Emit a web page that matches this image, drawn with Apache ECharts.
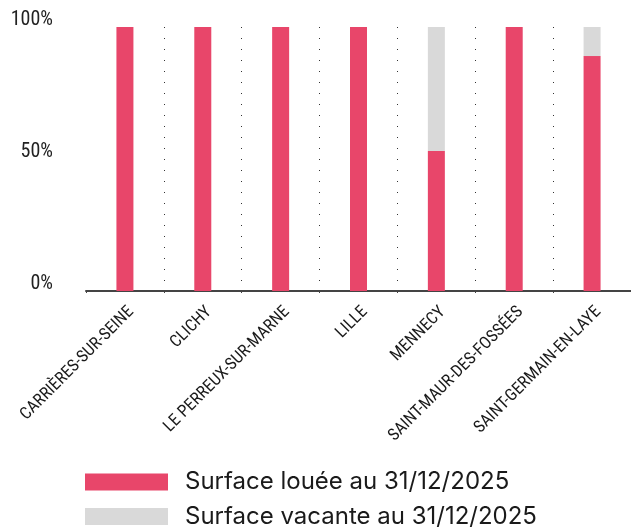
<!DOCTYPE html>
<html>
<head>
<meta charset="UTF-8">
<title></title>
<style>
  html, body { margin: 0; padding: 0; background: #fff; }
  #main { width: 631px; height: 530px; }
</style>
</head>
<body>
<div id="main"></div>
<script type="text/javascript" src="https://cdn.jsdelivr.net/npm/echarts@6/dist/echarts.min.js"></script>
<script type="text/javascript">
var villes = ['CARRIÈRES-SUR-SEINE', 'CLICHY', 'LE PERREUX-SUR-MARNE', 'LILLE', 'MENNECY', 'SAINT-MAUR-DES-FOSSÉES', 'SAINT-GERMAIN-EN-LAYE'];
var louee = [100, 100, 100, 100, 53, 100, 89];
var vacante = [0, 0, 0, 0, 47, 0, 11];
var yTicks = [0, 50, 100];

var condensed = '"Roboto Condensed", "DejaVu Sans Condensed", sans-serif';

var myChart = echarts.init(document.getElementById('main'));
var option = {
  animation: false,
  color: ['#e8466a', '#d9d9d9'],
  grid: {
    left: 86,
    right: 0,
    top: 27,
    bottom: 239
  },
  legend: {
    orient: 'vertical',
    left: 80,
    top: 465,
    height: 100,
    itemWidth: 83,
    itemHeight: 17,
    itemGap: 10.5,
    icon: 'rect',
    textStyle: {
      fontFamily: 'Inter, "Noto Sans", sans-serif',
      fontSize: 24,
      lineHeight: 20,
      color: '#1a1a1a',
      padding: [0, 0, 0, 12]
    },
    data: ['Surface louée au 31/12/2025', 'Surface vacante au 31/12/2025']
  },
  xAxis: {
    type: 'category',
    data: villes,
    axisLine: { lineStyle: { color: '#444', width: 2 } },
    axisTick: { show: true, length: 2, lineStyle: { color: '#444' } },
    splitLine: {
      show: true,
      showMinLine: false,
      showMaxLine: false,
      lineStyle: { color: '#333', type: [1, 10], width: 1 }
    },
    axisLabel: {
      rotate: 45,
      margin: 12,
      interval: 0,
      verticalAlign: 'top',
      lineHeight: 18,
      fontFamily: condensed,
      fontSize: 17,
      color: '#1a1a1a'
    }
  },
  yAxis: {
    type: 'value',
    min: 0,
    max: 100,
    interval: 50,
    axisLine: { show: false },
    axisTick: { show: false },
    splitLine: { show: false },
    axisLabel: {
      margin: 33,
      fontFamily: condensed,
      fontSize: 20,
      color: '#222',
      verticalAlign: 'bottom',
      lineHeight: 15,
      formatter: function (v) { return yTicks.indexOf(v) >= 0 ? v + '%' : ''; }
    }
  },
  series: [{
    name: 'Surface louée au 31/12/2025',
    type: 'bar',
    stack: 'total',
    barWidth: 17,
    data: louee
  }, {
    name: 'Surface vacante au 31/12/2025',
    type: 'bar',
    stack: 'total',
    barWidth: 17,
    data: vacante
  }]
};
myChart.setOption(option);
</script>
</body>
</html>
